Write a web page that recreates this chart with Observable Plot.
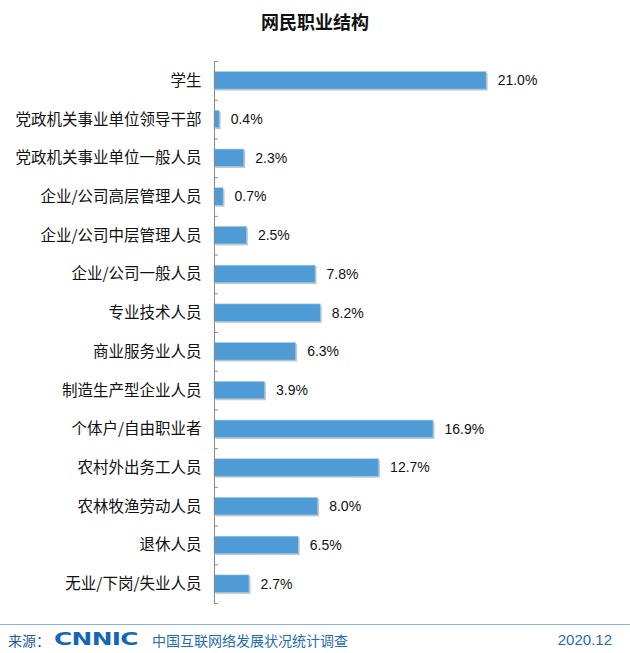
<!DOCTYPE html>
<html>
<head>
<meta charset="utf-8">
<script src="https://cdn.jsdelivr.net/npm/d3@7"></script>
<script src="https://cdn.jsdelivr.net/npm/@observablehq/plot@0.6"></script>
<style>
  body { margin: 0; background: #fff; }
  #wrap { position: relative; width: 630px; height: 653px; overflow: hidden; background: #fff; font-family: "Noto Sans CJK SC", "Noto Sans", sans-serif; }
  #title { position: absolute; left: 0; top: 9px; width: 630px; text-align: center; font-size: 18px; font-weight: bold; color: #111; line-height: 25px; }
  #chart { position: absolute; left: 0; top: 45px; }
  #fline { position: absolute; left: 0; top: 624px; width: 630px; height: 0; border-top: 1.5px solid #86b3e2; }
  #footer { position: absolute; left: 0; top: 629px; width: 630px; height: 22px; color: #1f6db6; font-size: 14px; line-height: 22px; }
  #src { position: absolute; left: 8px; top: 0; color: #1d5a9e; }
  #logo { position: absolute; left: 54px; top: -1px; font-family: "DejaVu Sans", sans-serif; font-weight: 900; font-size: 18px; color: #1566b4; transform: scaleX(1.38); transform-origin: left center; letter-spacing: -0.5px; }
  #survey { position: absolute; left: 152px; top: 0; }
  #date { position: absolute; right: 18px; top: 0; font-family: "Liberation Sans", Arial, sans-serif; font-size: 15px; }
</style>
</head>
<body>
<div id="wrap">
  <div id="title">网民职业结构</div>
  <div id="chart"></div>
  <div id="fline"></div>
  <div id="footer">
    <span id="src">来源：</span>
    <span id="logo">CNNIC</span>
    <span id="survey">中国互联网络发展状况统计调查</span>
    <span id="date">2020.12</span>
  </div>
</div>
<script>
const categories = [
  "学生",
  "党政机关事业单位领导干部",
  "党政机关事业单位一般人员",
  "企业/公司高层管理人员",
  "企业/公司中层管理人员",
  "企业/公司一般人员",
  "专业技术人员",
  "商业服务业人员",
  "制造生产型企业人员",
  "个体户/自由职业者",
  "农村外出务工人员",
  "农林牧渔劳动人员",
  "退休人员",
  "无业/下岗/失业人员"
];
const values = [21.0, 0.4, 2.3, 0.7, 2.5, 7.8, 8.2, 6.3, 3.9, 16.9, 12.7, 8.0, 6.5, 2.7];

const data = categories.map((c, i) => ({cat: c, value: values[i]}));

const step = 542 / categories.length;

const chart = Plot.plot({
  width: 630,
  height: 570,
  marginLeft: 214,
  marginRight: 92,
  marginTop: 16,
  marginBottom: 12,
  style: {background: "transparent", fontFamily: "'Noto Sans CJK SC', sans-serif", fontSize: "15.5px", color: "#111"},
  x: {domain: [0, 25], axis: null},
  y: {domain: categories, paddingInner: 0.55, paddingOuter: 0.275, round: false, label: null, tickSize: 0, tickPadding: 13},
  marks: [
    Plot.barX(data, {x: "value", y: "cat", fill: "#c8c8c8", dx: 1.5, dy: 1.5}),
    Plot.barX(data, {x: "value", y: "cat", fill: "#4f9bd5", stroke: "#9cc8ec", strokeWidth: 0.6}),
    Plot.text(data, {x: "value", y: "cat", text: d => d.value.toFixed(1) + "%", dx: 11, textAnchor: "start", fontFamily: "Liberation Sans, Arial, sans-serif", fontSize: 14, fill: "#111"}),
    Plot.ruleX([0], {stroke: "#8a8a8a", strokeWidth: 1}),
    Plot.ruleY(categories, {y: d => d, x1: 0, x2: 0.3, dy: -step / 2, stroke: "#8a8a8a"}),
    Plot.ruleY(categories.slice(-1), {y: d => d, x1: 0, x2: 0.3, dy: step / 2, stroke: "#8a8a8a"})
  ]
});
document.getElementById("chart").appendChild(chart);
</script>
</body>
</html>
